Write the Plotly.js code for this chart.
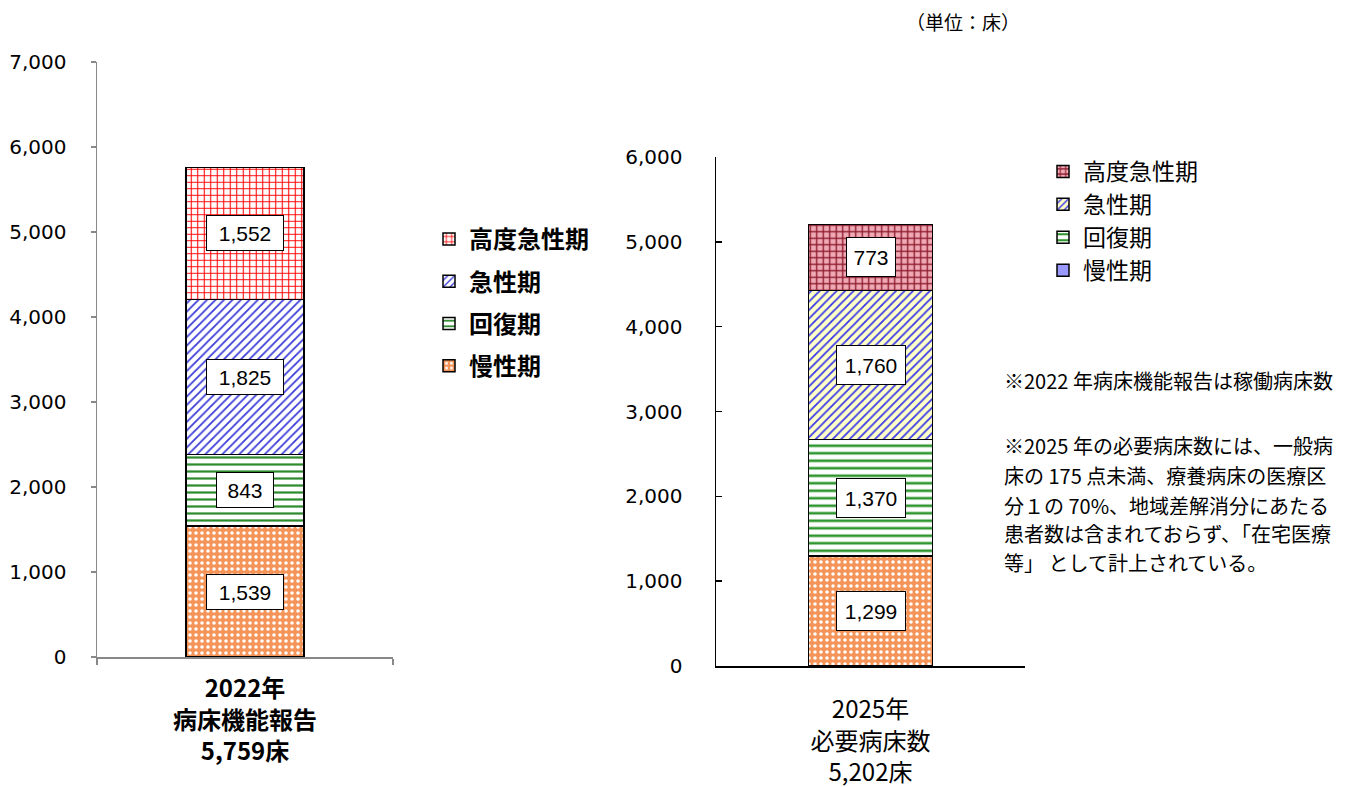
<!DOCTYPE html>
<html><head><meta charset="utf-8">
<script src="https://cdn.plot.ly/plotly-3.0.1.min.js"></script>
<style>html,body{margin:0;padding:0;background:#fff}#chart{width:1350px;height:787px}</style>
</head><body><div id="chart"></div>
<script>
// ---- data ----
const categories2022 = ["2022年<br>病床機能報告<br>5,759床"];
const categories2025 = ["2025年<br>必要病床数<br>5,202床"];
const stages = ["慢性期", "回復期", "急性期", "高度急性期"]; // bottom -> top
const beds2022 = [1539, 843, 1825, 1552];
const beds2025 = [1299, 1370, 1760, 773];
const yTicks2022 = [0, 1000, 2000, 3000, 4000, 5000, 6000, 7000];
const yTicks2025 = [0, 1000, 2000, 3000, 4000, 5000, 6000];
const unitLabel = "（単位：床）";
const notes = [
  "※2022 年病床機能報告は稼働病床数",
  "※2025 年の必要病床数には、一般病",
  "床の 175 点未満、療養病床の医療区",
  "分１の 70%、地域差解消分にあたる",
  "患者数は含まれておらず、「在宅医療",
  "等」 として計上されている。"
];

// ---- styles ----
const W = 1350, H = 787;
const px = v => v / W, py = v => 1 - v / H;
const JP = "Noto Sans CJK JP";
const stylesL = [
  {shape: ".", fg: "#ffffff", bg: "#f59458", size: 6, sol: 0.28},
  {shape: "-", fg: "#2e8b2e", bg: "#ffffff", size: 7, sol: 0.32},
  {shape: "/", fg: "#3838d8", bg: "#ffffff", size: 6, sol: 0.28},
  {shape: "+", fg: "#ff0000", bg: "#ffffff", size: 6.5, sol: 0.3}
];
const stylesR = [
  {shape: ".", fg: "#ffffff", bg: "#f59458", size: 6, sol: 0.28},
  {shape: "-", fg: "#2f962f", bg: "#ffffff", size: 7.5, sol: 0.35},
  {shape: "/", fg: "#3a3ae8", bg: "#ffffc8", size: 6, sol: 0.3},
  {shape: "+", fg: "#8e1c2e", bg: "#f0aab6", size: 6.5, sol: 0.38}
];

const traces = [];
stages.forEach((s, i) => {
  const st = stylesL[i];
  traces.push({
    type: "bar", name: s, x: categories2022, y: [beds2022[i]],
    xaxis: "x", yaxis: "y", legend: "legend", legendgroup: "L" + i,
    legendrank: stages.length - i, hoverinfo: "y+name",
    marker: {color: st.bg, line: {color: "#000", width: 1.5},
      pattern: {shape: st.shape, fgcolor: st.fg, bgcolor: st.bg, size: st.size, solidity: st.sol, fillmode: "replace"}}
  });
});
stages.forEach((s, i) => {
  const st = stylesR[i];
  traces.push({
    type: "bar", name: s, x: categories2025, y: [beds2025[i]],
    xaxis: "x2", yaxis: "y2", legend: "legend2", legendgroup: "R" + i,
    legendrank: stages.length - i, hoverinfo: "y+name",
    showlegend: i !== 0,
    marker: {color: st.bg, line: {color: "#000", width: 1.5},
      pattern: {shape: st.shape, fgcolor: st.fg, bgcolor: st.bg, size: st.size, solidity: st.sol, fillmode: "replace"}}
  });
});
// legend entry for 慢性期 in the right legend (shown as solid periwinkle in the reference)
traces.push({
  type: "bar", name: stages[0], x: categories2025, y: [null],
  xaxis: "x2", yaxis: "y2", legend: "legend2", legendgroup: "R0",
  legendrank: stages.length, hoverinfo: "skip",
  marker: {color: "#9999ff", line: {color: "#000", width: 1.5}}
});

// data labels
function cumMids(vals) {
  let c = 0; return vals.map(v => { const m = c + v / 2; c += v; return m; });
}
const annotations = [];
const mids22 = cumMids(beds2022), mids25 = cumMids(beds2025);
beds2022.forEach((v, i) => {
  const t = v.toLocaleString("en-US");
  annotations.push({xref: "x", yref: "y", x: categories2022[0], y: mids22[i], text: t, showarrow: false,
    font: {family: "Liberation Sans", size: 21, color: "#000"}, bgcolor: "#fff", bordercolor: "#000",
    borderwidth: 1, borderpad: 5, width: 10 * t.length + 16, height: 24});
});
beds2025.forEach((v, i) => {
  const t = v.toLocaleString("en-US");
  annotations.push({xref: "x2", yref: "y2", x: categories2025[0], y: mids25[i], text: t, showarrow: false,
    font: {family: "Liberation Sans", size: 21, color: "#000"}, bgcolor: "#fff", bordercolor: "#000",
    borderwidth: 1, borderpad: 5, width: 10 * t.length + 8, height: 28});
});
annotations.push({xref: "paper", yref: "paper", x: px(904), y: py(22), xanchor: "left", yanchor: "middle",
  text: unitLabel, showarrow: false, font: {family: JP, size: 19, color: "#000"}});
const noteY = [380, 445, 475, 505, 533, 562];
notes.forEach((n, i) => {
  annotations.push({xref: "paper", yref: "paper", x: px(1002), y: py(noteY[i]), xanchor: "left", yanchor: "middle",
    text: n, showarrow: false, font: {family: JP, size: 20, color: "#000"}});
});

const tickNum = {family: "DejaVu Sans", size: 20, color: "#000"};
const layout = {
  width: W, height: H, margin: {l: 0, r: 0, t: 0, b: 0},
  paper_bgcolor: "#fff", plot_bgcolor: "rgba(0,0,0,0)",
  barmode: "stack", bargap: 0.6, showlegend: true,
  font: {family: JP, color: "#000"},
  xaxis: {domain: [px(97), px(393)], anchor: "y", type: "category", range: [-0.5, 0.5],
    showline: true, linecolor: "#888", linewidth: 1.5, ticks: "outside", tickson: "boundaries",
    ticklen: 6, tickcolor: "#888", tickwidth: 1.5, ticklabelstandoff: 10,
    tickfont: {family: JP, size: 24, weight: "bold", color: "#000"}, showgrid: false, zeroline: false, fixedrange: true},
  yaxis: {domain: [py(657), py(62)], anchor: "x", range: [0, 7000], tickvals: yTicks2022, tickformat: ",",
    showline: true, linecolor: "#888", linewidth: 1.5, ticks: "outside", ticklen: 5, tickcolor: "#888", tickwidth: 1.5,
    ticklabelstandoff: 20, tickfont: tickNum, showgrid: false, zeroline: false, fixedrange: true},
  xaxis2: {domain: [px(716), px(1025)], anchor: "y2", type: "category", range: [-0.5, 0.5],
    showline: true, linecolor: "#000", linewidth: 1.5, ticks: "inside", tickson: "boundaries",
    ticklen: 6, tickcolor: "#000", tickwidth: 1.5, ticklabelstandoff: 22,
    tickfont: {family: JP, size: 24, color: "#000"}, showgrid: false, zeroline: false, fixedrange: true},
  yaxis2: {domain: [py(666), py(157)], anchor: "x2", range: [0, 6000], tickvals: yTicks2025, tickformat: ",",
    showline: true, linecolor: "#000", linewidth: 1.5, ticks: "inside", ticklen: 6, tickcolor: "#000", tickwidth: 1.5,
    ticklabelstandoff: 28, tickfont: tickNum, showgrid: false, zeroline: false, fixedrange: true},
  legend: {x: px(429), xanchor: "left", y: py(217), yanchor: "top", traceorder: "grouped", tracegroupgap: 8,
    bgcolor: "rgba(0,0,0,0)", font: {family: JP, size: 24, weight: "bold", color: "#000"}},
  legend2: {x: px(1043), xanchor: "left", y: py(150), yanchor: "top", traceorder: "grouped", tracegroupgap: 0,
    bgcolor: "rgba(0,0,0,0)", font: {family: JP, size: 23, color: "#000"}},
  annotations: annotations
};
Plotly.newPlot("chart", traces, layout, {displayModeBar: false, staticPlot: true});
</script></body></html>
